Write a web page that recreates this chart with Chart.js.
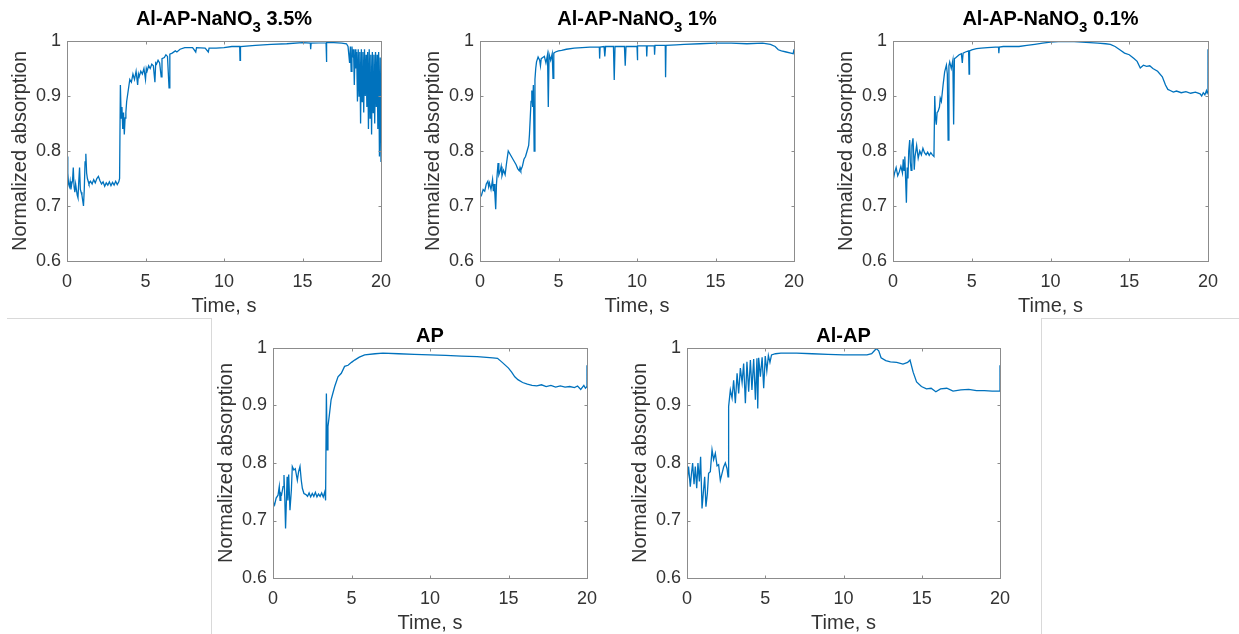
<!DOCTYPE html>
<html>
<head>
<meta charset="utf-8">
<script src="https://cdn.jsdelivr.net/npm/chart.js@4.4.1/dist/chart.umd.min.js"></script>
<style>
  body { margin: 0; background: #fff; width: 1239px; height: 634px; position: relative; overflow: hidden; }
  canvas { position: absolute; }
  .sep { position: absolute; background: #d9d9d9; }
</style>
</head>
<body>
<div class="sep" style="left:7px; top:318px; width:205px; height:1px;"></div>
<div class="sep" style="left:1041px; top:318px; width:198px; height:1px;"></div>
<div class="sep" style="left:211px; top:318px; width:1px; height:316px;"></div>
<div class="sep" style="left:1041px; top:318px; width:1px; height:316px;"></div>

<canvas id="c35"></canvas>
<canvas id="c1"></canvas>
<canvas id="c01"></canvas>
<canvas id="cAP"></canvas>
<canvas id="cAlAP"></canvas>

<script>
// tick labels
const xTicks = [0, 5, 10, 15, 20];
const yTicks = [0.6, 0.7, 0.8, 0.9, 1];

// titles: [text, subscript, text]
const title35 = ['Al-AP-NaNO', '3', ' 3.5%'];
const title1 = ['Al-AP-NaNO', '3', ' 1%'];
const title01 = ['Al-AP-NaNO', '3', ' 0.1%'];
const titleAP = ['AP', '', ''];
const titleAlAP = ['Al-AP', '', ''];

// Al-AP-NaNO3 3.5%
const t35 = [0, 0.05, 0.1, 0.15, 0.2, 0.25, 0.3, 0.35, 0.4, 0.45, 0.5, 0.55, 0.6, 0.65, 0.7, 0.75, 0.8, 0.85, 0.9, 0.95,
  1.0, 1.05, 1.1, 1.15, 1.2, 1.25, 1.3, 1.35, 1.4, 1.5, 1.6, 1.7, 1.8, 1.9, 2.0, 2.1, 2.2, 2.3, 2.4, 2.5,
  2.6, 2.7, 2.8, 2.9, 3.0, 3.1, 3.2, 3.3, 3.35, 3.4, 3.45, 3.5, 3.55, 3.6, 3.65, 3.7, 3.75, 3.8, 3.9, 4.0,
  4.1, 4.2, 4.3, 4.4, 4.5, 4.55, 4.6, 4.7, 4.8, 4.9, 5.0, 5.05, 5.1, 5.2, 5.3, 5.4, 5.5, 5.6, 5.65, 5.7,
  5.8, 5.9, 6.0, 6.05, 6.2, 6.3, 6.4, 6.5, 6.55, 6.7, 6.9, 7.0, 7.2, 7.5, 8.0, 8.2, 8.25, 8.8, 9.0, 9.05,
  9.5, 10.0, 10.5, 11.0, 11.02, 11.05, 12, 13, 14, 15, 15.5, 15.52, 15.55, 16.5, 16.52, 16.55, 17.0, 17.5, 17.8, 17.9,
  18.0, 18.05, 18.1, 18.15, 18.2, 18.25, 18.3, 18.35, 18.4, 18.45, 18.5, 18.55, 18.6, 18.65, 18.7, 18.75, 18.8, 18.85, 18.9, 18.95,
  19.0, 19.05, 19.1, 19.15, 19.2, 19.25, 19.3, 19.35, 19.4, 19.45, 19.5, 19.55, 19.6, 19.65, 19.7, 19.75, 19.8, 19.85, 19.9, 19.95, 20.0];
const v35 = [0.79, 0.76, 0.74, 0.735, 0.745, 0.73, 0.74, 0.745, 0.77, 0.735, 0.725, 0.74, 0.73, 0.72, 0.715, 0.745, 0.77, 0.73, 0.725, 0.72,
  0.71, 0.70, 0.73, 0.78, 0.795, 0.76, 0.75, 0.745, 0.74, 0.745, 0.74, 0.748, 0.742, 0.75, 0.754, 0.746, 0.74, 0.744, 0.736, 0.742,
  0.738, 0.744, 0.737, 0.743, 0.738, 0.745, 0.739, 0.744, 0.75, 0.92, 0.86, 0.88, 0.84, 0.87, 0.83, 0.86, 0.87, 0.89, 0.91, 0.93,
  0.925, 0.94, 0.93, 0.945, 0.92, 0.94, 0.935, 0.945, 0.94, 0.95, 0.93, 0.95, 0.945, 0.955, 0.95, 0.958, 0.955, 0.925, 0.96, 0.958,
  0.965, 0.96, 0.935, 0.968, 0.97, 0.975, 0.972, 0.915, 0.976, 0.978, 0.982, 0.98, 0.985, 0.988, 0.988, 0.98, 0.988, 0.987, 0.98, 0.987,
  0.987, 0.988, 0.99, 0.99, 0.965, 0.99, 0.992, 0.994, 0.995, 0.997, 0.996, 0.985, 0.996, 0.997, 0.962, 0.997, 0.997, 0.996, 0.995, 0.99,
  0.96, 0.99, 0.945, 0.99, 0.97, 0.985, 0.92, 0.985, 0.95, 0.98, 0.89, 0.985, 0.9, 0.98, 0.85, 0.985, 0.89, 0.98, 0.87, 0.985,
  0.9, 0.975, 0.88, 0.98, 0.84, 0.985, 0.86, 0.975, 0.83, 0.98, 0.87, 0.975, 0.85, 0.98, 0.88, 0.975, 0.84, 0.98, 0.79, 0.97, 0.78];

// Al-AP-NaNO3 1%
const t1 = [0, 0.1, 0.2, 0.3, 0.4, 0.5, 0.55, 0.6, 0.7, 0.8, 0.85, 0.9, 0.95, 1.0, 1.05, 1.1, 1.15, 1.2, 1.3, 1.35,
  1.4, 1.5, 1.6, 1.7, 1.8, 1.9, 2.0, 2.1, 2.2, 2.3, 2.4, 2.5, 2.55, 2.6, 2.7, 2.8, 2.9, 3.0, 3.1, 3.15,
  3.2, 3.25, 3.3, 3.35, 3.4, 3.45, 3.5, 3.55, 3.6, 3.7, 3.8, 3.85, 3.9, 4.0, 4.1, 4.2, 4.3, 4.35, 4.4, 4.5,
  4.6, 4.65, 4.7, 4.8, 5.0, 5.2, 5.5, 6.0, 6.5, 7.0, 7.6, 7.62, 7.65, 7.9, 7.95, 8.0, 8.5, 8.55, 8.6, 9.2,
  9.25, 9.3, 10.0, 10.02, 10.05, 10.6, 10.62, 10.65, 11.1, 11.12, 11.15, 11.8, 11.82, 11.85, 12.5, 13, 14, 15, 16, 17,
  18, 18.5, 18.8, 19.0, 19.2, 19.5, 19.8, 19.95, 20];
const v1 = [0.715, 0.72, 0.73, 0.727, 0.74, 0.745, 0.735, 0.742, 0.73, 0.748, 0.727, 0.74, 0.72, 0.694, 0.74, 0.76, 0.778, 0.757, 0.765, 0.772,
  0.755, 0.765, 0.757, 0.78, 0.80, 0.795, 0.79, 0.785, 0.78, 0.775, 0.768, 0.764, 0.77, 0.765, 0.772, 0.785, 0.79, 0.80, 0.81, 0.83,
  0.86, 0.89, 0.91, 0.88, 0.92, 0.80, 0.93, 0.95, 0.962, 0.971, 0.965, 0.955, 0.968, 0.97, 0.972, 0.96, 0.975, 0.88, 0.976, 0.965,
  0.977, 0.932, 0.978, 0.98, 0.982, 0.983, 0.985, 0.987, 0.988, 0.989, 0.989, 0.968, 0.989, 0.99, 0.972, 0.99, 0.99, 0.929, 0.99, 0.99,
  0.955, 0.99, 0.99, 0.965, 0.991, 0.991, 0.972, 0.991, 0.991, 0.975, 0.992, 0.992, 0.934, 0.992, 0.993, 0.994, 0.995, 0.996, 0.996, 0.995,
  0.996, 0.994, 0.99, 0.984, 0.982, 0.98, 0.978, 0.977, 0.985];

// Al-AP-NaNO3 0.1%
const t01 = [0, 0.1, 0.2, 0.3, 0.4, 0.5, 0.6, 0.65, 0.7, 0.75, 0.8, 0.85, 0.9, 0.95, 1.0, 1.06, 1.1, 1.15, 1.2, 1.27,
  1.35, 1.4, 1.5, 1.6, 1.7, 1.8, 1.9, 2.0, 2.1, 2.2, 2.3, 2.4, 2.5, 2.6, 2.65, 2.7, 2.75, 2.8, 2.86, 2.95,
  3.0, 3.07, 3.18, 3.28, 3.39, 3.45, 3.5, 3.55, 3.6, 3.7, 3.8, 3.85, 3.9, 4.0, 4.2, 4.34, 4.4, 4.45, 4.6, 4.8,
  4.83, 4.86, 5.0, 5.3, 5.6, 6.0, 6.5, 6.7, 6.72, 6.75, 7.0, 7.5, 8.0, 8.5, 9.0, 9.5, 10.0, 10.5, 11.0, 11.5,
  12.0, 12.5, 13.0, 13.5, 13.8, 14.1, 14.4, 14.7, 15.0, 15.3, 15.5, 15.7, 15.9, 16.1, 16.3, 16.5, 16.8, 17.1, 17.3, 17.45,
  17.6, 17.8, 18.0, 18.3, 18.6, 18.9, 19.2, 19.5, 19.6, 19.7, 19.8, 19.9, 19.95, 20, 20];
const v01 = [0.745, 0.76, 0.77, 0.755, 0.762, 0.772, 0.76, 0.785, 0.765, 0.79, 0.75, 0.706, 0.77, 0.75, 0.8, 0.82, 0.78, 0.765, 0.81, 0.823,
  0.766, 0.79, 0.81, 0.787, 0.8, 0.793, 0.805, 0.797, 0.793, 0.798, 0.792, 0.797, 0.793, 0.79, 0.9, 0.86, 0.848, 0.87, 0.872, 0.88,
  0.896, 0.89, 0.92, 0.944, 0.956, 0.94, 0.82, 0.955, 0.962, 0.95, 0.965, 0.848, 0.968, 0.97, 0.975, 0.977, 0.96, 0.978, 0.98, 0.982,
  0.94, 0.982, 0.984, 0.986, 0.987, 0.988, 0.989, 0.989, 0.978, 0.989, 0.99, 0.99, 0.99, 0.992, 0.994, 0.996, 0.998, 0.999, 0.999, 0.999,
  0.998, 0.997, 0.996, 0.995, 0.994, 0.99, 0.984, 0.978, 0.975, 0.968, 0.963, 0.951, 0.956, 0.954, 0.955, 0.95, 0.945, 0.935, 0.92, 0.912,
  0.91, 0.907, 0.909, 0.906, 0.908, 0.905, 0.907, 0.904, 0.9, 0.906, 0.902, 0.91, 0.905, 0.908, 0.985];

// AP
const tAP = [0, 0.1, 0.2, 0.32, 0.4, 0.45, 0.5, 0.55, 0.64, 0.7, 0.75, 0.8, 0.9, 0.95, 1.0, 1.08, 1.17, 1.23, 1.33, 1.42,
  1.55, 1.63, 1.72, 1.8, 1.87, 1.97, 2.1, 2.2, 2.3, 2.4, 2.5, 2.6, 2.7, 2.8, 2.9, 3.0, 3.1, 3.2, 3.3, 3.35,
  3.4, 3.45, 3.5, 3.6, 3.7, 3.8, 3.93, 4.14, 4.35, 4.56, 4.78, 5.0, 5.2, 5.5, 5.84, 6.5, 7.0, 8.0, 9.0, 10.0,
  11.0, 12.0, 13.0, 14.0, 14.3, 14.6, 15.0, 15.2, 15.4, 15.6, 15.9, 16.2, 16.5, 16.8, 17.1, 17.4, 17.7, 18.0, 18.3, 18.6,
  18.9, 19.2, 19.4, 19.6, 19.8, 19.9, 20, 20];
const vAP = [0.733, 0.727, 0.739, 0.744, 0.759, 0.735, 0.747, 0.745, 0.759, 0.779, 0.74, 0.686, 0.776, 0.735, 0.78, 0.718, 0.753, 0.794, 0.788, 0.79,
  0.77, 0.785, 0.794, 0.77, 0.756, 0.747, 0.745, 0.742, 0.748, 0.741, 0.747, 0.742, 0.749, 0.741, 0.746, 0.742, 0.748, 0.741, 0.75, 0.735,
  0.921, 0.823, 0.863, 0.886, 0.91, 0.92, 0.933, 0.95, 0.956, 0.968, 0.97, 0.975, 0.979, 0.984, 0.988, 0.99, 0.991, 0.99, 0.989, 0.988,
  0.987, 0.986, 0.985, 0.983, 0.982, 0.975, 0.965, 0.958, 0.95, 0.945, 0.94, 0.937, 0.935, 0.934, 0.936, 0.933, 0.935, 0.932, 0.934, 0.932,
  0.933, 0.931, 0.934, 0.928, 0.935, 0.93, 0.933, 0.97];

// Al-AP
const tAlAP = [0, 0.1, 0.21, 0.28, 0.36, 0.45, 0.53, 0.62, 0.7, 0.79, 0.87, 0.96, 1.04, 1.13, 1.21, 1.3, 1.38, 1.49, 1.6, 1.7,
  1.81, 1.92, 2.02, 2.13, 2.24, 2.34, 2.45, 2.56, 2.62, 2.66, 2.77, 2.88, 2.98, 3.09, 3.2, 3.3, 3.41, 3.52, 3.62, 3.73,
  3.83, 3.94, 4.05, 4.15, 4.26, 4.37, 4.47, 4.52, 4.58, 4.69, 4.8, 4.9, 5.0, 5.1, 5.2, 5.3, 5.4, 5.65, 6.0, 7.0,
  8.0, 9.0, 10.0, 11.0, 11.5, 11.8, 12.0, 12.1, 12.25, 12.4, 12.7, 13.0, 13.4, 13.8, 14.1, 14.25, 14.45, 14.67, 14.98, 15.3,
  15.6, 15.9, 16.2, 16.6, 17.0, 17.5, 18.0, 18.5, 19.0, 19.5, 20, 20];
const vAlAP = [0.765, 0.794, 0.759, 0.78, 0.8, 0.763, 0.794, 0.756, 0.8, 0.768, 0.811, 0.721, 0.747, 0.776, 0.724, 0.747, 0.782, 0.785, 0.823, 0.806,
  0.817, 0.795, 0.797, 0.77, 0.782, 0.793, 0.8, 0.79, 0.776, 0.898, 0.927, 0.913, 0.944, 0.904, 0.956, 0.921, 0.965, 0.94, 0.973, 0.904,
  0.976, 0.924, 0.979, 0.927, 0.981, 0.91, 0.982, 0.895, 0.983, 0.95, 0.984, 0.93, 0.986, 0.96, 0.987, 0.975, 0.988, 0.99, 0.991, 0.991,
  0.99, 0.989, 0.988, 0.988, 0.988, 0.99, 0.996, 0.999, 0.995, 0.983, 0.978, 0.976, 0.975, 0.972, 0.975, 0.979, 0.958, 0.941, 0.933, 0.929,
  0.93, 0.924, 0.929, 0.93, 0.925, 0.927, 0.928, 0.926, 0.926, 0.925, 0.925, 0.97];

const BLUE = '#0072BD';
const TEXT = '#333333';
const Y_W = 59;   // width reserved for y axis labels + title
const X_H = 57;   // height reserved for x axis labels + title
const PAD_R = 30;

Chart.defaults.font.family = "'Liberation Sans', Arial, sans-serif";

// box with inward ticks on all sides, and the title with subscript (MATLAB look)
const matlabBox = {
  id: 'matlabBox',
  afterDraw(chart) {
    const { ctx, chartArea: a, scales } = chart;
    const L = Math.round(a.left) + 0.5, R = Math.round(a.right) + 0.5;
    const T = Math.round(a.top) + 0.5, B = Math.round(a.bottom) + 0.5;
    ctx.save();
    ctx.strokeStyle = '#8c8c8c';
    ctx.lineWidth = 1;
    ctx.strokeRect(L, T, R - L, B - T);
    const tl = 3;
    ctx.beginPath();
    scales.x.ticks.forEach(tk => {
      const px = Math.round(scales.x.getPixelForValue(tk.value)) + 0.5;
      ctx.moveTo(px, B); ctx.lineTo(px, B - tl);
      ctx.moveTo(px, T); ctx.lineTo(px, T + tl);
    });
    scales.y.ticks.forEach(tk => {
      const py = Math.round(scales.y.getPixelForValue(tk.value)) + 0.5;
      ctx.moveTo(L, py); ctx.lineTo(L + tl, py);
      ctx.moveTo(R, py); ctx.lineTo(R - tl, py);
    });
    ctx.stroke();

    // title
    const parts = chart.options.plugins.matlabBox.title;
    const gap = chart.options.plugins.matlabBox.gap;
    const big = "bold 20px 'Liberation Sans', Arial, sans-serif";
    const small = "bold 15px 'Liberation Sans', Arial, sans-serif";
    ctx.font = big; const w0 = ctx.measureText(parts[0]).width;
    const w2 = ctx.measureText(parts[2]).width;
    ctx.font = small; const w1 = ctx.measureText(parts[1]).width;
    let x = (a.left + a.right) / 2 - (w0 + w1 + w2) / 2;
    const base = a.top - gap;
    ctx.fillStyle = '#000';
    ctx.textBaseline = 'alphabetic';
    ctx.textAlign = 'left';
    ctx.font = big; ctx.fillText(parts[0], x, base); x += w0;
    ctx.font = small; ctx.fillText(parts[1], x, base + 7); x += w1;
    ctx.font = big; ctx.fillText(parts[2], x, base);
    ctx.restore();
  }
};

function makePanel(id, box, padTop, gap, title, times, values) {
  const cv = document.getElementById(id);
  const W = box.right - box.left + Y_W + PAD_R;
  const H = box.bottom - box.top + padTop + X_H;
  cv.width = W; cv.height = H;
  cv.style.width = W + 'px'; cv.style.height = H + 'px';
  cv.style.left = (box.left - Y_W) + 'px';
  cv.style.top = (box.top - padTop) + 'px';

  const points = times.map((t, i) => ({ x: t, y: values[i] }));

  new Chart(cv, {
    type: 'line',
    data: {
      datasets: [{
        data: points,
        borderColor: BLUE,
        borderWidth: 1.3,
        pointRadius: 0,
        tension: 0,
        fill: false
      }]
    },
    options: {
      responsive: false,
      animation: false,
      devicePixelRatio: 1,
      layout: { padding: { top: padTop, right: PAD_R, left: 0, bottom: 0 } },
      plugins: {
        legend: { display: false },
        tooltip: { enabled: false },
        title: { display: false },
        matlabBox: { title: title, gap: gap }
      },
      scales: {
        x: {
          type: 'linear',
          min: 0, max: 20,
          afterBuildTicks: s => { s.ticks = xTicks.map(v => ({ value: v })); },
          afterFit: s => { s.height = X_H; },
          grid: { display: false, drawTicks: false },
          border: { display: false },
          ticks: { padding: 10, color: TEXT, font: { size: 18 }, maxRotation: 0 },
          title: { display: true, text: 'Time, s', color: TEXT, font: { size: 20 }, padding: 0 }
        },
        y: {
          type: 'linear',
          min: 0.6, max: 1,
          afterBuildTicks: s => { s.ticks = yTicks.map(v => ({ value: v })); },
          afterFit: s => { s.width = Y_W; },
          grid: { display: false, drawTicks: false },
          border: { display: false },
          ticks: { padding: 6, color: TEXT, font: { size: 18 }, callback: v => String(+v.toFixed(1)) },
          title: { display: true, text: 'Normalized absorption', color: TEXT, font: { size: 20 }, padding: 0 }
        }
      }
    },
    plugins: [matlabBox]
  });
}

makePanel('c35', { left: 67, right: 381, top: 41, bottom: 261 }, 41, 16, title35, t35, v35);
makePanel('c1', { left: 480, right: 794, top: 41, bottom: 261 }, 41, 16, title1, t1, v1);
makePanel('c01', { left: 893, right: 1208, top: 41, bottom: 261 }, 41, 16, title01, t01, v01);
makePanel('cAP', { left: 273, right: 587, top: 348, bottom: 578 }, 28, 6, titleAP, tAP, vAP);
makePanel('cAlAP', { left: 687, right: 1000, top: 348, bottom: 578 }, 28, 6, titleAlAP, tAlAP, vAlAP);
</script>
</body>
</html>
